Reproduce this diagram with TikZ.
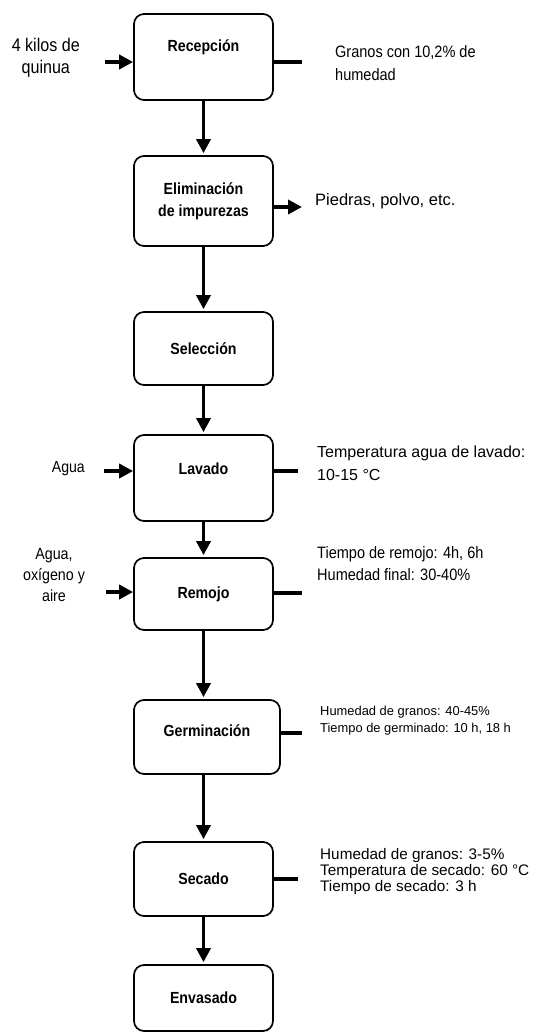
\documentclass[tikz,border=0pt]{standalone}
\usepackage{fontspec}
\setmainfont{Liberation Sans}
\newfontfamily\estrecha[FakeStretch=0.88]{Liberation Sans}
\usetikzlibrary{arrows.meta}
\tikzset{
  etapa/.style={draw, line width=1.7pt, rounded corners=10pt, minimum width=139pt, align=center, inner sep=0pt, font=\estrecha\fontsize{16.1}{22}\selectfont\bfseries},
  flecha/.style={line width=3.5pt, -{Triangle[length=14pt,width=14pt]}},
  linea/.style={line width=3.5pt},
  nota/.style={anchor=west, align=left, inner sep=0pt},
  entrada/.style={anchor=east, align=center, inner sep=0pt},
}

\begin{document}
\begin{tikzpicture}[x=1pt, y=-1pt]
		%%%%% START %%%%%
		\useasboundingbox (0,0) rectangle (550,1034);
		
		% etapas del proceso
		\node[etapa, minimum height=86pt, text depth=22pt] (rec) at (203.5,57) {Recepción};
		\node[etapa, minimum height=90pt] (eli) at (203.5,201) {Eliminación\\de impurezas};
		\node[etapa, minimum height=73pt] (sel) at (203.5,348.5) {Selección};
		\node[etapa, minimum height=86pt, text depth=18pt] (lav) at (203.5,478) {Lavado};
		\node[etapa, minimum height=72pt] (rem) at (203.5,594) {Remojo};
		\node[etapa, minimum height=74pt, minimum width=146pt, text depth=12pt] (ger) at (207,737) {Germinación};
		\node[etapa, minimum height=74pt] (sec) at (203.5,879) {Secado};
		\node[etapa, minimum height=66pt] (env) at (203.5,998) {Envasado};
		
		% flujo principal
		\draw[flecha, shorten >=2pt] (rec.south) -- (eli.north);
		\draw[flecha, shorten >=2pt] (eli.south) -- (sel.north);
		\draw[flecha, shorten >=2pt] (sel.south) -- (lav.north);
		\draw[flecha, shorten >=2pt] (lav.south) -- (rem.north);
		\draw[flecha, shorten >=2pt] (rem.south) -- (rem.south |- ger.north);
		\draw[flecha, shorten >=2pt] (rem.south |- ger.south) -- (sec.north);
		\draw[flecha, shorten >=2pt] (sec.south) -- (env.north);
		
		% entradas
		\node[entrada, font=\estrecha\fontsize{18.3}{22}\selectfont] (kilos) at (80,58) {4 kilos de\\quinua};
		\coordinate (e1) at (105,62);
		\draw[flecha] (e1) -- (e1 -| rec.west);
		
		\node[entrada, font=\estrecha\fontsize{16}{20}\selectfont] (agua) at (85,469) {Agua};
		\coordinate (e2) at (104,471);
		\draw[flecha] (e2) -- (e2 -| lav.west);
		
		\node[anchor=center, align=center, inner sep=0pt, font=\estrecha\fontsize{16.2}{21}\selectfont] (aire) at (54,575) {Agua,\\oxígeno y\\aire};
		\coordinate (e3) at (106,592);
		\draw[flecha] (e3) -- (e3 -| rem.west);
		
		% salidas y condiciones
		\coordinate (s1) at (302,62);
		\draw[linea] (s1 -| rec.east) -- (s1);
		\node[nota, font=\estrecha\fontsize{16.5}{23}\selectfont] (granos) at (335,63) {Granos con 10,2\% de\\humedad};
		
		\coordinate (s2) at (302,207);
		\draw[flecha] (s2 -| eli.east) -- (s2);
		\node[nota, font=\fontsize{16.5}{20}\selectfont] (piedras) at (315,201) {Piedras, polvo, etc.};
		
		\coordinate (s3) at (298,471);
		\draw[linea] (s3 -| lav.east) -- (s3);
		\node[nota, font=\fontsize{16}{23}\selectfont] (templav) at (317,463) {Temperatura agua de lavado:\\10-15 °C};
		
		\coordinate (s4) at (302,593);
		\draw[linea] (s4 -| rem.east) -- (s4);
		\node[nota, font=\estrecha\fontsize{16.5}{22}\selectfont] (remojo) at (317,564) {Tiempo de remojo: 4h, 6h\\Humedad final: 30-40\%};
		
		\coordinate (s5) at (302,733);
		\draw[linea] (s5 -| ger.east) -- (s5);
		\node[nota, font=\fontsize{12.9}{17}\selectfont] (germ) at (320,721) {Humedad de granos: 40-45\%\\Tiempo de germinado: 10 h, 18 h};
		
		\coordinate (s6) at (298,879);
		\draw[linea] (s6 -| sec.east) -- (s6);
		\node[nota, font=\fontsize{15.3}{16}\selectfont] (secado) at (320,872) {Humedad de granos: 3-5\%\\Temperatura de secado: 60 °C\\Tiempo de secado: 3 h};
		%%%%% END %%%%%
\end{tikzpicture}
\end{document}
